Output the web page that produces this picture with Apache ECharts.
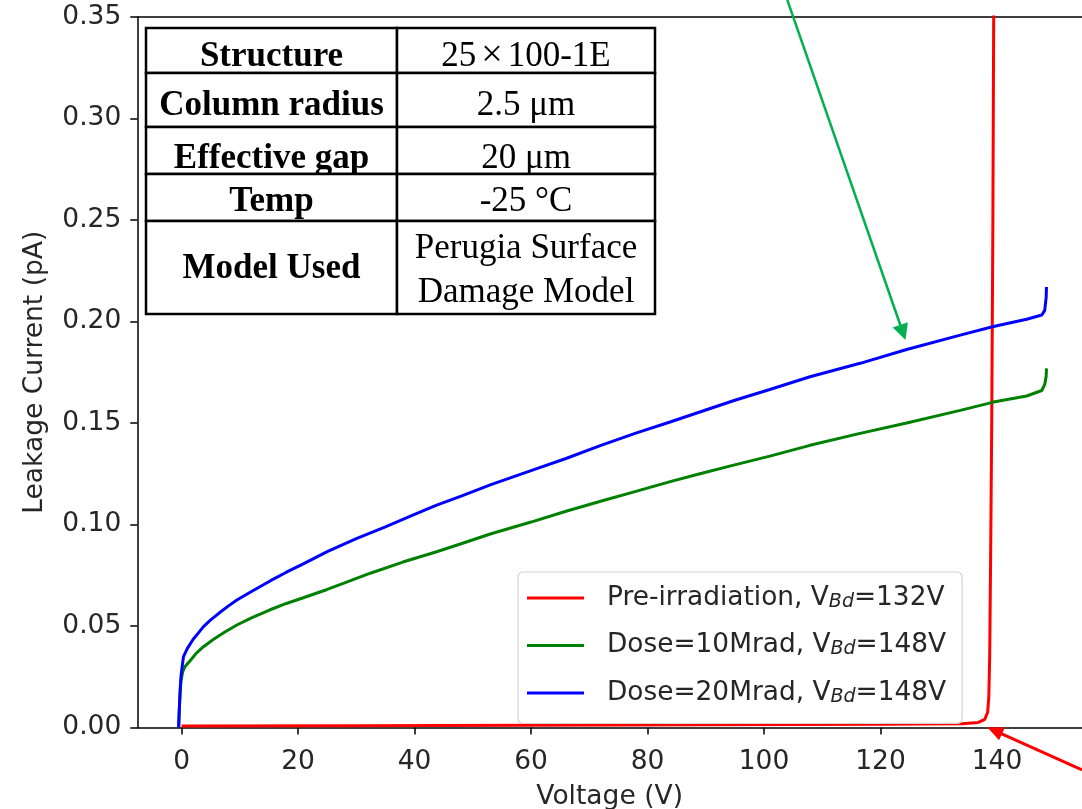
<!DOCTYPE html>
<html>
<head>
<meta charset="utf-8">
<script src="https://cdn.jsdelivr.net/npm/echarts@6/dist/echarts.min.js"></script>
<style>
  html, body { margin: 0; padding: 0; background: #fff; }
  #chart { width: 1082px; height: 809px; }
</style>
</head>
<body>
<div id="chart"></div>
<script>
// Leakage current vs bias voltage for the 25x100-1E pixel structure

// Pre-irradiation curve
const preVoltage = [0, 30, 60, 90, 120, 134, 136.8, 137.9, 138.4, 138.6, 138.75, 138.9, 139.1, 139.3, 139.45];
const preCurrent = [0.0008, 0.0009, 0.0011, 0.0013, 0.0016, 0.0019, 0.0025, 0.0040, 0.0075, 0.015, 0.035, 0.08, 0.15, 0.25, 0.36];

// Dose = 10 Mrad
const dose10Voltage = [-0.5, -0.4, -0.25, -0.1, 0.2, 0.6, 1.5, 2.5, 3.76, 5.5, 7.5, 9.5, 12, 15.2, 18, 20.9, 25, 28, 32.4, 38, 43.8, 48, 53, 60, 66, 72.4, 78, 83.9, 89, 95.3, 101, 107.9, 116.5, 124.5, 133.7, 139.4, 145.1, 147.7, 148.2, 148.45, 148.5];
const dose10Current = [0, 0.008, 0.017, 0.023, 0.0275, 0.030, 0.033, 0.0365, 0.0398, 0.0435, 0.0472, 0.0505, 0.0540, 0.0580, 0.0611, 0.0639, 0.0680, 0.0712, 0.0760, 0.0815, 0.0866, 0.0905, 0.0953, 0.1012, 0.1065, 0.1118, 0.1163, 0.1211, 0.1250, 0.1296, 0.1337, 0.1390, 0.1449, 0.1500, 0.1562, 0.1603, 0.1633, 0.1660, 0.1690, 0.1730, 0.1769];

// Dose = 20 Mrad
const dose20Voltage = [-0.5, -0.4, -0.25, -0.1, 0.1, 0.33, 1, 2, 3, 3.76, 5, 6.5, 8, 9.5, 12, 15.2, 18, 20.9, 25, 30, 35, 40, 43.8, 48, 53, 60, 66, 72, 78, 84, 90, 95, 101, 107.9, 116.5, 124.5, 133.7, 139.4, 145.1, 147.7, 148.2, 148.45, 148.5];
const dose20Current = [0, 0.008, 0.018, 0.025, 0.030, 0.0349, 0.039, 0.0435, 0.047, 0.0497, 0.053, 0.0565, 0.0598, 0.0628, 0.0670, 0.0722, 0.0765, 0.0806, 0.0866, 0.0930, 0.0988, 0.1050, 0.1095, 0.1140, 0.1195, 0.1265, 0.1325, 0.1390, 0.1450, 0.1506, 0.1564, 0.1612, 0.1665, 0.1728, 0.1794, 0.1862, 0.1933, 0.1975, 0.2011, 0.2032, 0.2055, 0.2120, 0.2170];

const seriesLabels = ['Pre-irradiation', 'Dose=10Mrad', 'Dose=20Mrad'];
const breakdownVoltages = [132, 148, 148];
const seriesColors = ['#ff0000', '#008000', '#0000ff'];

const xTicks = [0, 20, 40, 60, 80, 100, 120, 140];
const yTicks = [0, 0.05, 0.10, 0.15, 0.20, 0.25, 0.30, 0.35];

// Simulation parameter table
const tableKeys = ['Structure', 'Column radius', 'Effective gap', 'Temp', 'Model Used'];
const tableValues = ['25{x|×}100-1E', '2.5 μm', '20 μm', '-25 °C', 'Perugia Surface\nDamage Model'];

// Annotation arrows (tail, tip) in data units
const arrowGreen = [[104.0, 0.3584], [124.3, 0.1909]];
const arrowRed = [[154.6, -0.0209], [138.35, 0.0001]];

const zip = (xs, ys) => xs.map((x, i) => [x, ys[i]]);
const curves = [zip(preVoltage, preCurrent), zip(dose10Voltage, dose10Current), zip(dose20Voltage, dose20Current)];

const chart = echarts.init(document.getElementById('chart'), null, { renderer: 'canvas' });

const FONT = 'DejaVu Sans';
const TXT = '#262626';
const FS = 26.5;

// table graphic
const colX = [146, 397, 655];
const rowY = [28, 73, 127, 174, 221, 314];
const keyTextY = [56.5, 106, 159, 201.5, 269];
const valTextY = [56.5, 106, 159, 201.5, 271];
const tableEls = [];
for (let r = 0; r < tableKeys.length; r++) {
  for (let c = 0; c < 2; c++) {
    tableEls.push({
      type: 'rect',
      shape: { x: colX[c], y: rowY[r], width: colX[c + 1] - colX[c], height: rowY[r + 1] - rowY[r] },
      style: { fill: '#fff', stroke: '#000', lineWidth: 2.5 }
    });
  }
  tableEls.push({
    type: 'text',
    style: {
      x: (colX[0] + colX[1]) / 2, y: keyTextY[r], text: tableKeys[r],
      font: 'bold 35px "Liberation Serif"', fill: '#000', align: 'center', verticalAlign: 'middle'
    }
  });
  tableEls.push({
    type: 'text',
    style: {
      x: (colX[1] + colX[2]) / 2, y: valTextY[r], text: tableValues[r],
      font: '35px "Liberation Serif"', fill: '#000', align: 'center', verticalAlign: 'middle',
      lineHeight: 44,
      rich: { x: { font: '38px "Liberation Serif"', padding: [0, 5, 0, 5] } }
    }
  });
}

const axisCommon = {
  type: 'value', min: -7.6, max: 154.6
};

chart.setOption({
  animation: false,
  backgroundColor: '#fff',
  grid: {
    left: 137.3, top: 17, right: 0, bottom: 81.5,
    outerBoundsMode: 'none', containLabel: false, show: false
  },
  xAxis: [{
    ...axisCommon,
    name: 'Voltage (V)', nameLocation: 'middle', nameGap: 56.5,
    nameTextStyle: { fontFamily: FONT, fontSize: FS, color: TXT },
    axisLine: { show: true, onZero: false, lineStyle: { color: '#000', width: 1.5 } },
    axisTick: { show: true, inside: false, length: 7, customValues: xTicks, lineStyle: { color: '#000', width: 1.5 } },
    axisLabel: { customValues: xTicks, fontFamily: FONT, fontSize: FS, color: TXT, margin: 21 },
    splitLine: { show: false }
  }, {
    // top spine
    ...axisCommon, position: 'top',
    axisLine: { show: true, onZero: false, lineStyle: { color: '#000', width: 1.5 } },
    axisTick: { show: false }, axisLabel: { show: false }, splitLine: { show: false }
  }],
  yAxis: {
    type: 'value', min: 0, max: 0.35,
    name: 'Leakage Current (pA)', nameLocation: 'middle', nameGap: 89,
    nameTextStyle: { fontFamily: FONT, fontSize: FS, color: TXT },
    axisLine: { show: true, onZero: false, lineStyle: { color: '#000', width: 1.5 } },
    axisTick: { show: true, inside: false, length: 7, customValues: yTicks, lineStyle: { color: '#000', width: 1.5 } },
    axisLabel: { customValues: yTicks, fontFamily: FONT, fontSize: FS, color: TXT, margin: 16,
      formatter: v => v.toFixed(2) },
    splitLine: { show: false }
  },
  legend: {
    orient: 'vertical', left: 518, top: 572,
    padding: [13, 16, 17, 9], itemGap: 21,
    itemWidth: 57, itemHeight: 3, icon: 'rect',
    backgroundColor: 'rgba(255,255,255,0.85)', borderColor: '#d4d4d4', borderWidth: 1.2, borderRadius: 5,
    data: seriesLabels,
    formatter: name => {
      const i = seriesLabels.indexOf(name);
      return name + ', V{sub|Bd}=' + breakdownVoltages[i] + 'V';
    },
    textStyle: {
      fontFamily: FONT, fontSize: 26.4, color: TXT, padding: [0, 0, 0, 18],
      rich: { sub: { fontFamily: FONT, fontSize: 19, fontStyle: 'italic', color: TXT, padding: [8, 0, 0, 0] } }
    }
  },
  series: seriesLabels.map((name, i) => ({
    type: 'line', name, data: curves[i], showSymbol: false, symbol: 'none',
    clip: true, z: 3,
    lineStyle: { color: seriesColors[i], width: 3 },
    itemStyle: { color: seriesColors[i] }
  })),
  graphic: { elements: [{ type: 'group', id: 'table', z: 20, children: tableEls }] }
});

// annotation arrows, placed through the axis scales
function arrowEls(id, pts, color, width, headLen, headW) {
  const a = chart.convertToPixel({ gridIndex: 0 }, pts[0]);
  const b = chart.convertToPixel({ gridIndex: 0 }, pts[1]);
  const dx = b[0] - a[0], dy = b[1] - a[1];
  const len = Math.hypot(dx, dy);
  const ux = dx / len, uy = dy / len;
  const nx = -uy, ny = ux;
  const bx = b[0] - ux * headLen, by = b[1] - uy * headLen;
  return [
    { type: 'line', id: id + '-l', z: 30,
      shape: { x1: a[0], y1: a[1], x2: bx + ux * 2, y2: by + uy * 2 },
      style: { stroke: color, lineWidth: width } },
    { type: 'polygon', id: id + '-h', z: 30,
      shape: { points: [[b[0], b[1]], [bx + nx * headW / 2, by + ny * headW / 2], [bx - nx * headW / 2, by - ny * headW / 2]] },
      style: { fill: color } }
  ];
}
chart.setOption({
  graphic: { elements: [
    ...arrowEls('ga', arrowGreen, '#00b050', 2.5, 16, 16),
    ...arrowEls('ra', arrowRed, '#ff0000', 3, 16, 14)
  ] }
});
</script>
</body>
</html>
